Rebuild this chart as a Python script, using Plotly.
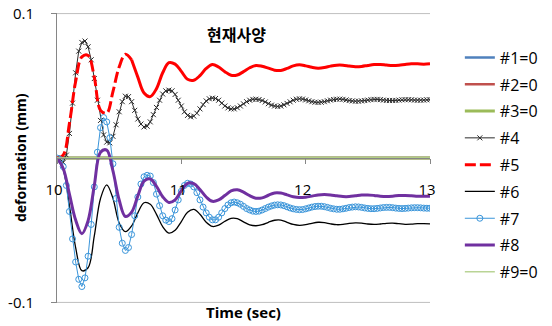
import numpy as np
import plotly.graph_objects as go

# Sampling grids (sec)
t_fine = np.round(10 + 0.025 * np.arange(121), 3)    # series with markers
t_coarse = np.round(10 + 0.05 * np.arange(61), 2)    # line-only series

# Deformation (mm), one row = 0.2 s
s4 = [
    0, -0.001, -0.003, 0.002, 0.017, 0.038, 0.059, 0.074,
    0.080, 0.081, 0.077, 0.068, 0.055, 0.040, 0.026, 0.016,
    0.011, 0.0105, 0.015, 0.023, 0.032, 0.039, 0.0428, 0.0425,
    0.039, 0.033, 0.027, 0.0235, 0.0215, 0.022, 0.025, 0.030,
    0.035, 0.040, 0.0443, 0.0465, 0.047, 0.0465, 0.044, 0.040,
    0.036, 0.032, 0.0295, 0.0285, 0.029, 0.031, 0.034, 0.037,
    0.0395, 0.041, 0.0415, 0.0412, 0.040, 0.038, 0.036, 0.0347,
    0.034, 0.034, 0.0348, 0.036, 0.0375, 0.039, 0.040, 0.0406,
    0.0407, 0.0405, 0.0398, 0.0388, 0.0376, 0.0366, 0.036, 0.0357,
    0.036, 0.0368, 0.0378, 0.0389, 0.0400, 0.0407, 0.041, 0.0408,
    0.0402, 0.0396, 0.039, 0.0386, 0.0385, 0.0386, 0.039, 0.0396,
    0.0401, 0.0405, 0.0407, 0.0408, 0.0406, 0.0402, 0.0398, 0.0395,
    0.0393, 0.0393, 0.0395, 0.0398, 0.0401, 0.0404, 0.0406, 0.0406,
    0.0404, 0.0401, 0.0399, 0.0398, 0.0398, 0.0399, 0.0401, 0.0403,
    0.0404, 0.0404, 0.0403, 0.0401, 0.0400, 0.0400, 0.0401, 0.0403,
    0.0404,
]

s7 = [
    0, -0.001, -0.006, -0.019, -0.037, -0.056, -0.072, -0.084,
    -0.089, -0.083, -0.068, -0.046, -0.020, 0.004, 0.021, 0.028,
    0.025, 0.014, -0.004, -0.028, -0.048, -0.059, -0.064, -0.062,
    -0.053, -0.040, -0.027, -0.018, -0.013, -0.012, -0.0125, -0.017,
    -0.025, -0.033, -0.040, -0.043, -0.044, -0.042, -0.036, -0.029,
    -0.023, -0.019, -0.0175, -0.018, -0.020, -0.024, -0.029, -0.034,
    -0.038, -0.041, -0.0428, -0.0428, -0.041, -0.038, -0.035, -0.0325,
    -0.031, -0.0305, -0.031, -0.032, -0.0335, -0.035, -0.036, -0.0368,
    -0.037, -0.0368, -0.036, -0.035, -0.034, -0.0332, -0.0326, -0.0324,
    -0.0325, -0.033, -0.0338, -0.0346, -0.0352, -0.0356, -0.0358, -0.0357,
    -0.0352, -0.0346, -0.034, -0.0336, -0.0334, -0.0334, -0.0337, -0.0342,
    -0.0348, -0.0352, -0.0355, -0.0355, -0.0352, -0.0348, -0.0343, -0.034,
    -0.0338, -0.0339, -0.0342, -0.0346, -0.0349, -0.0351, -0.0351, -0.0349,
    -0.0346, -0.0343, -0.0342, -0.0342, -0.0344, -0.0347, -0.0349, -0.035,
    -0.0349, -0.0347, -0.0345, -0.0344, -0.0344, -0.0345, -0.0347, -0.0348,
    -0.0348,
]

s5 = [
    0, 0.002, 0.024, 0.053,
    0.070, 0.071, 0.056, 0.033,
    0.031, 0.046, 0.063, 0.0718,
    0.068, 0.056, 0.045, 0.0425,
    0.048, 0.059, 0.066, 0.065,
    0.060, 0.0545, 0.0538, 0.057,
    0.062, 0.0648, 0.063, 0.0598,
    0.0573, 0.0575, 0.0598, 0.0625,
    0.0641, 0.0635, 0.0622, 0.0608,
    0.0606, 0.0620, 0.0638, 0.0645,
    0.0638, 0.0628, 0.0622, 0.0626,
    0.0636, 0.0643, 0.0643, 0.0637,
    0.0632, 0.0634, 0.0641, 0.0647,
    0.0648, 0.0644, 0.0641, 0.0643,
    0.0648, 0.0652, 0.0652, 0.0650,
    0.0652,
]

s6 = [
    0, -0.008, -0.033, -0.062,
    -0.078, -0.076, -0.054, -0.028,
    -0.0186, -0.028, -0.045, -0.051,
    -0.047, -0.038, -0.031, -0.032,
    -0.039, -0.0475, -0.052, -0.050,
    -0.044, -0.0375, -0.0356, -0.039,
    -0.0445, -0.0474, -0.0465, -0.0438,
    -0.0418, -0.0420, -0.0442, -0.0463,
    -0.0469, -0.0462, -0.0445, -0.0431,
    -0.0430, -0.0445, -0.0460, -0.0466,
    -0.0462, -0.0452, -0.0445, -0.0447,
    -0.0456, -0.0462, -0.0460, -0.0453,
    -0.0449, -0.0451, -0.0457, -0.0460,
    -0.0457, -0.0452, -0.0451, -0.0455,
    -0.0459, -0.0458, -0.0455, -0.0454,
    -0.0456,
]

s8 = [
    0, -0.0073, -0.025, -0.043,
    -0.0524, -0.0434, -0.019, 0.004,
    0.0055, -0.009, -0.029, -0.0405,
    -0.0375, -0.0262, -0.016, -0.0145,
    -0.0196, -0.0268, -0.0308, -0.029,
    -0.0226, -0.0175, -0.0178, -0.0218,
    -0.027, -0.030, -0.029, -0.026,
    -0.0228, -0.022, -0.0236, -0.0261,
    -0.0278, -0.0276, -0.0258, -0.0242,
    -0.0243, -0.0255, -0.0268, -0.0274,
    -0.0271, -0.0264, -0.0256, -0.0253,
    -0.0256, -0.0262, -0.0267, -0.0267,
    -0.0262, -0.0257, -0.0256, -0.0259,
    -0.0264, -0.0266, -0.0264, -0.026,
    -0.0259, -0.0261, -0.0264, -0.0265,
    -0.0264,
]

# Cases that stay at zero
s_zero = [0.0] * len(t_coarse)

x_ticks = [10, 11, 12, 13]
y_ticks = [-0.1, 0.1]
y_ticktext = ["-0.1", "0.1"]

FONT = "Open Sans, Noto Sans CJK KR, sans-serif"
fig = go.Figure()


def add(name, x, y, color, width, dash="solid", shape="linear", marker=None,
        showlegend=True):
    kw = dict(mode="lines")
    if marker is not None:
        kw = dict(mode="lines+markers", marker=marker)
    fig.add_trace(go.Scatter(
        x=x, y=y, name=name, legendgroup=name, showlegend=showlegend,
        line=dict(color=color, width=width, dash=dash, shape=shape),
        **kw,
    ))


# #5 is drawn dashed over its steep start; its dense flat tail renders solid
split = 12  # index of t = 10.60 in the coarse grid

add("#1=0", t_coarse, s_zero, "#4F81BD", 2.5)
add("#2=0", t_coarse, s_zero, "#C0504D", 2.5)
add("#3=0", t_coarse, s_zero, "#9BBB59", 3)
add("#4", t_fine, s4, "#2B2B2B", 1,
    marker=dict(symbol="x-thin-open", size=5,
                line=dict(color="#6E6E6E", width=1)))
add("#5", t_coarse[:split + 1], s5[:split + 1], "#FF0000", 3,
    dash="11px,4px", shape="spline")
add("#5", t_coarse[split:], s5[split:], "#FF0000", 3, shape="spline",
    showlegend=False)
add("#6", t_coarse, s6, "#000000", 1.3, shape="spline")
add("#7", t_fine, s7, "#3A95DA", 1,
    marker=dict(symbol="circle-open", size=6,
                line=dict(color="#3A95DA", width=1)))
add("#8", t_coarse, s8, "#7030A0", 3, shape="spline")
add("#9=0", t_coarse, s_zero, "#B9D495", 1.5)

# Horizontal gridlines at the labelled y ticks
grid_shapes = [
    dict(type="line", xref="paper", x0=0, x1=1, yref="y", y0=v, y1=v,
         line=dict(color="#BFBFBF", width=1), layer="below")
    for v in y_ticks
]

fig.update_layout(
    width=552, height=326,
    margin=dict(l=57, r=122, t=13, b=23, autoexpand=False),
    paper_bgcolor="white", plot_bgcolor="white",
    font=dict(family=FONT, size=15, color="#000000"),
    showlegend=True,
    legend=dict(
        x=1.08, xref="paper", xanchor="left",
        y=0.905, yanchor="top",
        font=dict(size=16, color="#000000"),
        tracegroupgap=3, bgcolor="rgba(0,0,0,0)",
    ),
    shapes=grid_shapes,
    xaxis=dict(
        range=[10, 13], anchor="free", position=0.5, automargin=False,
        tickvals=x_ticks, showline=True, linecolor="#868686", linewidth=1,
        ticks="outside", ticklen=5, tickcolor="#868686",
        showgrid=False, zeroline=False,
        tickfont=dict(size=15, color="#000000"),
        ticklabelstandoff=13, ticklabelshift=-3,
    ),
    yaxis=dict(
        range=[-0.1004, 0.1004], tickvals=y_ticks, ticktext=y_ticktext,
        automargin=False,
        showline=True, linecolor="#868686", linewidth=1,
        ticks="outside", ticklen=5, tickcolor="#868686",
        showgrid=False, zeroline=False,
        tickfont=dict(size=15, color="#000000"),
        ticklabelstandoff=14,
    ),
    annotations=[
        dict(text="<b>현재사양</b>", x=0.48, y=0.924, xref="paper", yref="paper",
             xanchor="center", yanchor="middle", showarrow=False,
             font=dict(size=16, color="#000000")),
        dict(text="<b>Time (sec)</b>", x=0.5, y=-0.031, xref="paper", yref="paper",
             xanchor="center", yanchor="middle", showarrow=False,
             font=dict(size=15, color="#000000")),
        dict(text="<b>deformation (mm)</b>", x=-0.099, y=0.5, xref="paper", yref="paper",
             xanchor="center", yanchor="middle", showarrow=False, textangle=-90,
             font=dict(size=14, color="#000000")),
    ],
)

fig.write_html("out.html")
